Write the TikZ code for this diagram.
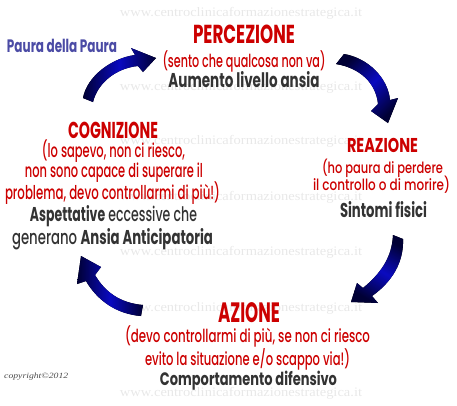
\documentclass[tikz,border=0pt]{standalone}
\usepackage{fontspec}
\usepackage{graphicx}
\setmainfont{Poppins}[UprightFont=* Medium, BoldFont=* Bold]
\newfontfamily\wmfont{Liberation Serif}
\definecolor{redt}{HTML}{CC0000}
\definecolor{darkt}{HTML}{333333}
\definecolor{ppcol}{HTML}{4B4BA5}
\definecolor{adark}{HTML}{000035}
\definecolor{ablue}{HTML}{0A0AC0}
\definecolor{wmcol}{HTML}{E8E8E8}
\newcommand\fw[2]{\resizebox{#1pt}{\height}{#2}}
\newcommand\fsz[1]{\fontsize{#1}{#1}\selectfont}
\tikzset{
  txt/.style={inner sep=0pt, outer sep=0pt, anchor=base},
  ttl/.style={txt, text=redt, font=\bfseries},
  red/.style={txt, text=redt},
  blk/.style={txt, text=darkt},
  wm/.style={inner sep=0pt, text=wmcol, font=\wmfont\fsz{13}},
  arr/.style={draw=none}
}
\begin{document}
\begin{tikzpicture}[x=1pt,y=-1pt]
\useasboundingbox (0,0) rectangle (457,405);
% watermarks
\foreach \yy [count=\i] in {13,87,141,197,252,308,393}
  \node[wm] (w\i) at (241,\yy) {\fw{242}{www.centroclinicaformazionestrategica.it}};

% arrows
\fill[left color=adark, right color=adark, middle color=ablue]
  (83,98) .. controls (87,76) and (112,58) .. (135,55)
  -- (131,48) -- (156,58) -- (143,72) -- (138,66)
  .. controls (117,68) and (98,82) .. (93,102) -- cycle;
\fill[top color=adark, bottom color=adark, middle color=ablue, shading angle=45]
  (344,54) .. controls (368,58) and (388,78) .. (390,100)
  -- (398,98) -- (388,123) -- (371,111) -- (378,104)
  .. controls (376,83) and (360,68) .. (336,64) -- cycle;
\fill[top color=adark, bottom color=adark, middle color=ablue, shading angle=-30]
  (403,239) .. controls (404,262) and (392,282) .. (372,296)
  -- (378,303) -- (351,302) -- (357,283) -- (363,288)
  .. controls (380,274) and (392,258) .. (393,235) -- cycle;
\fill[left color=adark, right color=adark, middle color=ablue]
  (141,316) .. controls (116,314) and (97,300) .. (86,281)
  -- (77,284) -- (81,256) -- (101,267) -- (95,275)
  .. controls (105,292) and (120,303) .. (143,305) -- cycle;

% texts
\node[txt, text=ppcol, font=\bfseries\fsz{18}] (pp) at (62,52) {\fw{110}{Paura della Paura}};

\node[ttl, font=\bfseries\fsz{26}] (p1) at (244,43) {\fw{102}{PERCEZIONE}};
\node[red, font=\fsz{18}] (p2) at (244,67) {\fw{163}{(sento che qualcosa non va)}};
\node[blk, font=\bfseries\fsz{20}] (p3) at (244,87) {\fw{151}{Aumento livello ansia}};

\node[ttl, font=\bfseries\fsz{23}] (c1) at (113,138) {\fw{90}{COGNIZIONE}};
\node[red, font=\fsz{19}] (c2) at (113.5,157) {\fw{143}{(lo sapevo, non ci riesco,}};
\node[red, font=\fsz{19}] (c3) at (114,177) {\fw{178}{non sono capace di superare il}};
\node[red, font=\fsz{19}] (c4) at (112.5,199) {\fw{215}{problema, devo controllarmi di più!)}};
\node[blk, font=\fsz{20}] (c5) at (113.5,221) {\fw{167}{\textbf{Aspettative} eccessive che}};
\node[blk, font=\fsz{20}] (c6) at (112.5,244) {\fw{201}{generano \textbf{Ansia Anticipatoria}}};

\node[ttl, font=\bfseries\fsz{20}] (r1) at (382.5,152) {\fw{71}{REAZIONE}};
\node[red, font=\fsz{15.5}] (r2) at (382.5,173) {\fw{121}{(ho paura di perdere}};
\node[red, font=\fsz{15.5}] (r3) at (381.5,190) {\fw{137}{il controllo o di morire)}};
\node[blk, font=\bfseries\fsz{20}] (r4) at (383.5,217) {\fw{87}{Sintomi fisici}};

\node[ttl, font=\bfseries\fsz{28}] (a1) at (249,322) {\fw{62}{AZIONE}};
\node[red, font=\fsz{18}] (a2) at (247.5,342) {\fw{245}{(devo controllarmi di più, se non ci riesco}};
\node[red, font=\fsz{18}] (a3) at (247.5,365) {\fw{205}{evito la situazione e/o scappo via!)}};
\node[blk, font=\bfseries\fsz{18}] (a4) at (248.5,385) {\fw{177}{Comportamento difensivo}};

\node[inner sep=0pt, anchor=base west, text=black!70, font=\wmfont\itshape\fsz{8}] (cp) at (4,378) {\fw{64}{copyright©2012}};
\end{tikzpicture}
\end{document}
